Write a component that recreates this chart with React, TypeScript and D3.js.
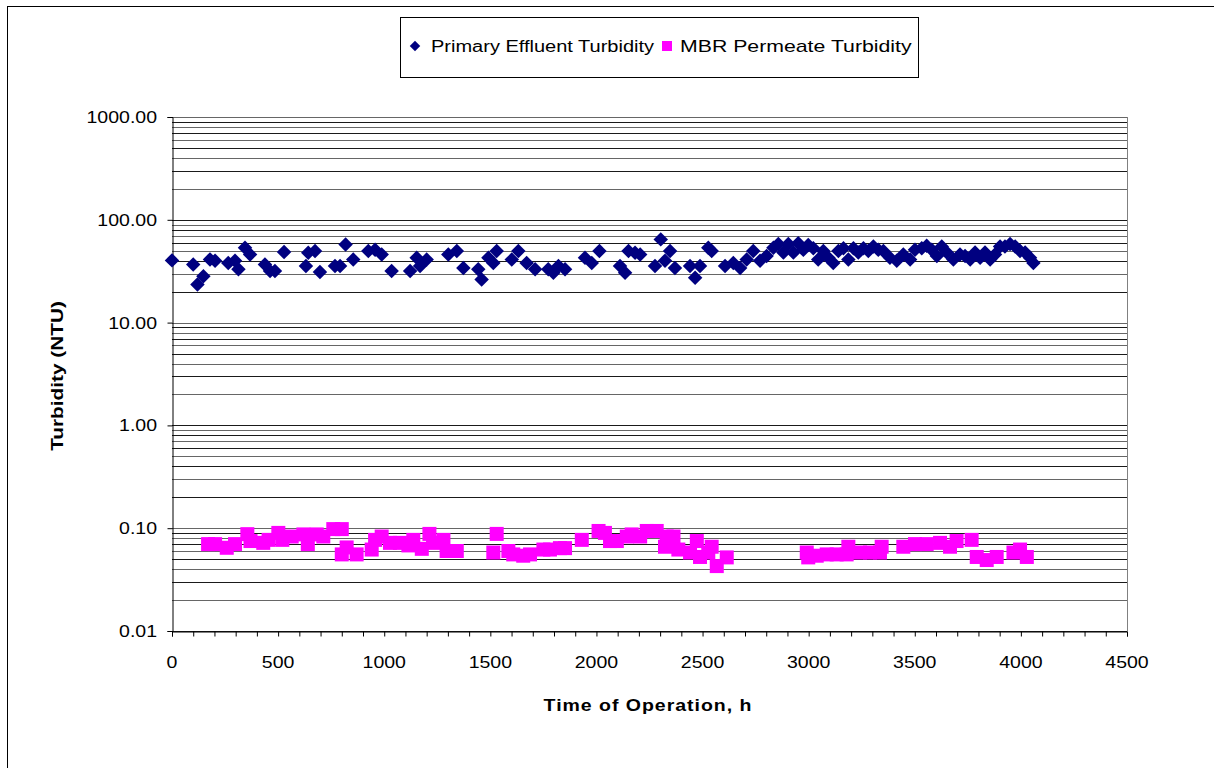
import {useEffect, useRef} from 'react';
import * as d3 from 'd3';

// primary effluent turbidity (hours, NTU)
const primaryTime = [0, 100, 120, 148, 179, 203, 265, 297, 313, 344, 368, 438, 462, 485, 528, 631, 642, 674, 697, 768, 792, 818, 854, 925, 957, 988, 1035, 1122, 1153, 1169, 1200, 1302, 1342, 1373, 1443, 1459, 1491, 1514, 1530, 1601, 1632, 1671, 1711, 1773, 1797, 1821, 1852, 1946, 1978, 2014, 2111, 2135, 2151, 2182, 2206, 2276, 2303, 2323, 2347, 2370, 2441, 2465, 2488, 2527, 2543, 2606, 2645, 2677, 2708, 2739, 2771, 2802, 2834, 2857, 2881, 2904, 2928, 2951, 2975, 2998, 3022, 3045, 3069, 3093, 3116, 3140, 3164, 3187, 3211, 3234, 3258, 3281, 3305, 3328, 3352, 3383, 3415, 3446, 3478, 3501, 3533, 3556, 3580, 3604, 3627, 3651, 3682, 3713, 3737, 3761, 3784, 3808, 3831, 3855, 3878, 3902, 3925, 3949, 3973, 3996, 4020, 4043, 4059];
const primaryTurb = [40.3, 36.8, 23.5, 28.3, 41.2, 40, 38, 40, 33, 53.5, 46, 36.8, 31.7, 31.7, 48.5, 35.5, 47.8, 49.7, 31, 35.5, 35.5, 57.6, 41, 49.7, 51, 46, 31.7, 31.7, 42.7, 35.5, 41, 46, 49.7, 34, 33, 26.3, 42.7, 38, 49.7, 41, 49.7, 38, 33, 33, 30.5, 35.5, 33, 42.7, 38, 49.7, 35.5, 30.5, 49.7, 47.8, 46, 35.5, 64.5, 40, 49.7, 34, 35.5, 27.3, 35.5, 53.5, 49.7, 35.5, 38, 34, 41, 49.7, 40, 44.5, 53.5, 58, 48, 58, 48, 59, 51, 57, 53, 41, 49.7, 42.7, 38, 49.7, 53, 41, 53, 48, 53, 49.7, 55, 51, 49.7, 42.7, 40, 46, 41, 51, 53, 56, 51, 44.5, 55, 48, 41, 46, 44.5, 41, 48, 42.7, 48, 41, 46, 55, 55, 58, 55, 49.7, 48, 42.7, 38];

// MBR permeate turbidity (hours, NTU)
const permeateTime = [170, 203, 258, 297, 355, 370, 430, 455, 501, 520, 564, 619, 640, 682, 713, 760, 800, 800, 823, 870, 941, 957, 988, 1027, 1074, 1114, 1137, 1177, 1213, 1230, 1279, 1294, 1342, 1514, 1530, 1585, 1608, 1655, 1687, 1750, 1781, 1828, 1852, 1931, 2010, 2040, 2064, 2096, 2143, 2166, 2206, 2237, 2284, 2323, 2331, 2363, 2386, 2441, 2473, 2488, 2527, 2543, 2567, 2614, 2991, 2998, 3038, 3085, 3132, 3179, 3187, 3242, 3289, 3336, 3344, 3446, 3501, 3556, 3619, 3666, 3697, 3768, 3792, 3839, 3886, 3965, 3996, 4028];
const permeateTurb = [0.07, 0.07, 0.0645, 0.07, 0.0875, 0.075, 0.072, 0.077, 0.09, 0.077, 0.083, 0.087, 0.07, 0.087, 0.083, 0.098, 0.098, 0.0556, 0.065, 0.0556, 0.062, 0.077, 0.083, 0.072, 0.072, 0.068, 0.077, 0.063, 0.088, 0.072, 0.077, 0.06, 0.06, 0.058, 0.088, 0.06, 0.0556, 0.054, 0.0556, 0.062, 0.062, 0.064, 0.064, 0.077, 0.094, 0.09, 0.075, 0.075, 0.083, 0.087, 0.083, 0.094, 0.094, 0.066, 0.083, 0.083, 0.062, 0.058, 0.075, 0.0525, 0.058, 0.066, 0.0428, 0.052, 0.058, 0.052, 0.054, 0.0556, 0.0556, 0.0556, 0.066, 0.058, 0.058, 0.058, 0.066, 0.066, 0.07, 0.07, 0.072, 0.066, 0.075, 0.077, 0.0525, 0.049, 0.0525, 0.058, 0.062, 0.0525];

const seriesNames = ['Primary Effluent Turbidity', 'MBR Permeate Turbidity'];
const yTickValues = [0.01, 0.1, 1, 10, 100, 1000];

// parameters
const width = 1214;
const height = 768;
const plotLeft = 172;
const plotRight = 1127;
const plotTop = 117;
const plotBottom = 631;
const stretch = 1.22;
const font = "'Liberation Sans', Arial, sans-serif";
const navy = '#000080';
const pink = '#FF00FF';

export default function App() {
  const ref = useRef(null);
  useEffect(() => {
    if (!ref.current)
      return;
    const svg = d3.select(ref.current);
    svg.selectAll('*').remove();

    const x = d3.scaleLinear().domain([0, 4500]).range([plotLeft, plotRight]);
    const y = d3.scaleLog().domain([0.01, 1000]).range([plotBottom, plotTop]);

    // chart border
    svg.append('rect')
      .attr('x', 7.5).attr('y', 6.5)
      .attr('width', width + 10).attr('height', height + 10)
      .attr('fill', 'white').attr('stroke', '#000').attr('stroke-width', 1);

    // gridlines at every log step
    const gridValues: number[] = [];
    yTickValues.slice(0, -1).forEach(d => {
      for (let k = 1; k < 10; k++) gridValues.push(d * k);
    });
    gridValues.push(1000);
    svg.append('g')
      .selectAll('line')
      .data(gridValues)
      .enter()
      .append('line')
      .attr('x1', plotLeft).attr('x2', plotRight)
      .attr('y1', d => Math.round(y(d)) + 0.5)
      .attr('y2', d => Math.round(y(d)) + 0.5)
      .attr('stroke', (d, i) => (i % 2 ? '#666' : '#1a1a1a'))
      .attr('stroke-width', 1);

    // right border of plot area
    svg.append('line')
      .attr('x1', plotRight + 0.5).attr('x2', plotRight + 0.5)
      .attr('y1', plotTop).attr('y2', plotBottom)
      .attr('stroke', '#808080');

    // x axis
    const xAxis = svg.append('g')
      .attr('transform', `translate(0,${plotBottom + 0.5})`)
      .call(d3.axisBottom(x).tickValues(d3.range(0, 4501, 100)).tickSize(5).tickFormat(() => ''));
    xAxis.select('.domain').attr('stroke', '#000');
    xAxis.selectAll('line').attr('stroke', '#000');
    svg.append('g')
      .selectAll('text')
      .data(d3.range(0, 4501, 500))
      .enter()
      .append('text')
      .attr('transform', d => `translate(${x(d)},${plotBottom + 37}) scale(${stretch},1)`)
      .attr('text-anchor', 'middle')
      .attr('font-family', font)
      .attr('font-size', 16)
      .attr('fill', '#000')
      .text(d => d);

    // y axis
    const yAxis = svg.append('g')
      .attr('transform', `translate(${plotLeft + 0.5},0)`)
      .call(d3.axisLeft(y).tickValues(yTickValues).tickSize(5).tickFormat(() => ''));
    yAxis.select('.domain').attr('stroke', '#000');
    yAxis.selectAll('line').attr('stroke', '#000');
    svg.append('g')
      .selectAll('text')
      .data(yTickValues)
      .enter()
      .append('text')
      .attr('transform', d => `translate(157,${y(d) + 6}) scale(${stretch},1)`)
      .attr('text-anchor', 'end')
      .attr('font-family', font)
      .attr('font-size', 16)
      .attr('fill', '#000')
      .text(d => d.toFixed(2));

    // axis titles
    svg.append('text')
      .attr('transform', `translate(648,711) scale(${stretch},1)`)
      .attr('text-anchor', 'middle')
      .attr('font-family', font)
      .attr('font-size', 16)
      .attr('font-weight', 'bold')
      .attr('letter-spacing', 0.8)
      .text('Time of Operation, h');
    svg.append('text')
      .attr('transform', `translate(63,376) rotate(-90) scale(1.3,1)`)
      .attr('text-anchor', 'middle')
      .attr('font-family', font)
      .attr('font-size', 16)
      .attr('font-weight', 'bold')
      .text('Turbidity (NTU)');

    // permeate squares
    const sq = 14;
    svg.append('g')
      .selectAll('rect')
      .data(permeateTime.map((t, i) => ({t, v: permeateTurb[i]})))
      .enter()
      .append('rect')
      .attr('x', d => x(d.t) - sq / 2)
      .attr('y', d => y(d.v) - sq / 2)
      .attr('width', sq)
      .attr('height', sq)
      .attr('fill', pink);

    // primary diamonds
    const diamond = d3.symbol().type(d3.symbolSquare).size(105);
    svg.append('g')
      .selectAll('path')
      .data(primaryTime.map((t, i) => ({t, v: primaryTurb[i]})))
      .enter()
      .append('path')
      .attr('d', diamond)
      .attr('transform', d => `translate(${x(d.t)},${y(d.v)}) rotate(45)`)
      .attr('fill', navy);

    // legend
    const legend = svg.append('g');
    legend.append('rect')
      .attr('x', 400.5).attr('y', 17.5)
      .attr('width', 518).attr('height', 60)
      .attr('fill', 'white').attr('stroke', '#000');
    legend.append('path')
      .attr('d', d3.symbol().type(d3.symbolSquare).size(55)())
      .attr('transform', 'translate(415,46) rotate(45)')
      .attr('fill', navy);
    legend.append('rect')
      .attr('x', 662).attr('y', 41).attr('width', 10).attr('height', 10)
      .attr('fill', pink);
    [[431, seriesNames[0], 1.25], [680, seriesNames[1], 1.33]].forEach(([lx, name, s]) => {
      legend.append('text')
        .attr('transform', `translate(${lx},52) scale(${s},1)`)
        .attr('font-family', font)
        .attr('font-size', 16)
        .attr('fill', '#000')
        .text(name as string);
    });
  }, [ref]);
  return <svg
    ref={ref}
    width={width}
    height={height}
    style={{position: 'absolute', left: 0, top: 0, background: 'white'}}
  />;
}
